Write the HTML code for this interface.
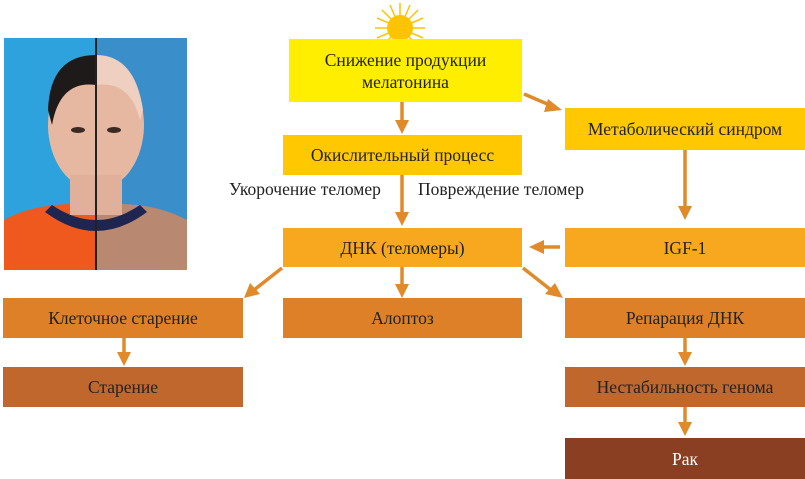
<!DOCTYPE html>
<html><head><meta charset="utf-8"><style>
body{margin:0;width:805px;height:479px;background:#fff;position:relative;overflow:hidden;font-family:"Liberation Serif",serif;}
.b{position:absolute;display:flex;align-items:center;justify-content:center;text-align:center;font-size:17.5px;color:#222;line-height:22px;}
.l{position:absolute;font-size:17.5px;color:#222;}
svg{position:absolute;left:0;top:0;}
</style></head><body>
<svg width="805" height="479">
<defs><clipPath id="c"><rect x="4" y="38" width="183" height="232"/></clipPath></defs>
<g clip-path="url(#c)">
<rect x="4" y="38" width="92" height="232" fill="#2ea2dc"/>
<rect x="96" y="38" width="91" height="232" fill="#3a8fcb"/>
<path d="M4 220 Q40 200 96 205 L96 270 L4 270Z" fill="#f0591e"/>
<path d="M96 205 Q150 200 187 220 L187 270 L96 270Z" fill="#b88870"/>
<path d="M45 212 Q96 250 147 212 L140 205 Q96 235 52 205Z" fill="#1e2550"/>
<ellipse cx="96" cy="125" rx="48" ry="65" fill="#e6b8a2"/>
<path d="M48 110 Q50 55 96 55 L96 85 Q60 80 52 125Z" fill="#1e1a1a"/>
<path d="M96 55 Q135 55 143 110 L140 120 Q130 80 96 85Z" fill="#efd0c0"/>
<rect x="70" y="175" width="52" height="40" fill="#e0b09a"/>
<ellipse cx="78" cy="130" rx="7" ry="3" fill="#3a2a22"/>
<ellipse cx="114" cy="130" rx="7" ry="3" fill="#3a2a22"/>
<rect x="95" y="38" width="2" height="232" fill="#222"/>
</g>
<g fill="#ffc400">
<circle cx="400" cy="28" r="13"/>
</g>
<g stroke="#ffc400" stroke-width="1.5">
<line x1="375" y1="28" x2="425" y2="28"/><line x1="400" y1="3" x2="400" y2="53"/>
<line x1="382" y1="10" x2="418" y2="46"/><line x1="418" y1="10" x2="382" y2="46"/>
<line x1="377" y1="18" x2="423" y2="38"/><line x1="377" y1="38" x2="423" y2="18"/>
<line x1="390" y1="5" x2="410" y2="51"/><line x1="410" y1="5" x2="390" y2="51"/>
</g>
<g stroke="#e08a2a" stroke-width="3.5" fill="#e08a2a">
<line x1="402" y1="102" x2="402" y2="124"/><polygon points="395,120 409,120 402,134" stroke="none"/>
<line x1="402" y1="175" x2="402" y2="216"/><polygon points="395,212 409,212 402,226" stroke="none"/>
<line x1="402" y1="267" x2="402" y2="288"/><polygon points="395,284 409,284 402,298" stroke="none"/>
<line x1="685" y1="150" x2="685" y2="216"/><polygon points="678,206 692,206 685,220" stroke="none"/>
<line x1="560" y1="247" x2="540" y2="247"/><polygon points="544,240 544,254 529,247" stroke="none"/>
<line x1="524" y1="94" x2="552" y2="106"/><polygon points="548,99 544,112 562,110" stroke="none"/>
<line x1="282" y1="268" x2="254" y2="290"/><polygon points="250,283 260,294 244,298" stroke="none"/>
<line x1="523" y1="268" x2="551" y2="290"/><polygon points="555,283 545,294 563,298" stroke="none"/>
<line x1="124" y1="338" x2="124" y2="356"/><polygon points="117,352 131,352 124,366" stroke="none"/>
<line x1="685" y1="338" x2="685" y2="356"/><polygon points="678,352 692,352 685,366" stroke="none"/>
<line x1="685" y1="405" x2="685" y2="426"/><polygon points="678,422 692,422 685,436" stroke="none"/>
</g>
</svg>
<div class="b" style="left:289px;top:39px;width:233px;height:63px;background:#ffee00">Снижение продукции<br>мелатонина</div>
<div class="b" style="left:283px;top:135px;width:239px;height:40px;background:#ffc800">Окислительный процесс</div>
<div class="b" style="left:565px;top:108px;width:240px;height:42px;background:#ffc800">Метаболический синдром</div>
<div class="l" style="left:229px;top:179px">Укорочение теломер</div>
<div class="l" style="left:418px;top:179px">Повреждение теломер</div>
<div class="b" style="left:283px;top:228px;width:239px;height:39px;background:#f7a81e">ДНК (теломеры)</div>
<div class="b" style="left:565px;top:228px;width:240px;height:39px;background:#f7a81e">IGF-1</div>
<div class="b" style="left:3px;top:298px;width:240px;height:40px;background:#dd8028">Клеточное старение</div>
<div class="b" style="left:283px;top:298px;width:239px;height:40px;background:#dd8028">Алоптоз</div>
<div class="b" style="left:565px;top:298px;width:240px;height:40px;background:#dd8028">Репарация ДНК</div>
<div class="b" style="left:3px;top:367px;width:240px;height:40px;background:#c0672e">Старение</div>
<div class="b" style="left:565px;top:367px;width:240px;height:40px;background:#c0672e">Нестабильность генома</div>
<div class="b" style="left:565px;top:438px;width:240px;height:41px;background:#8b3f22;color:#fff">Рак</div>
</body></html>
